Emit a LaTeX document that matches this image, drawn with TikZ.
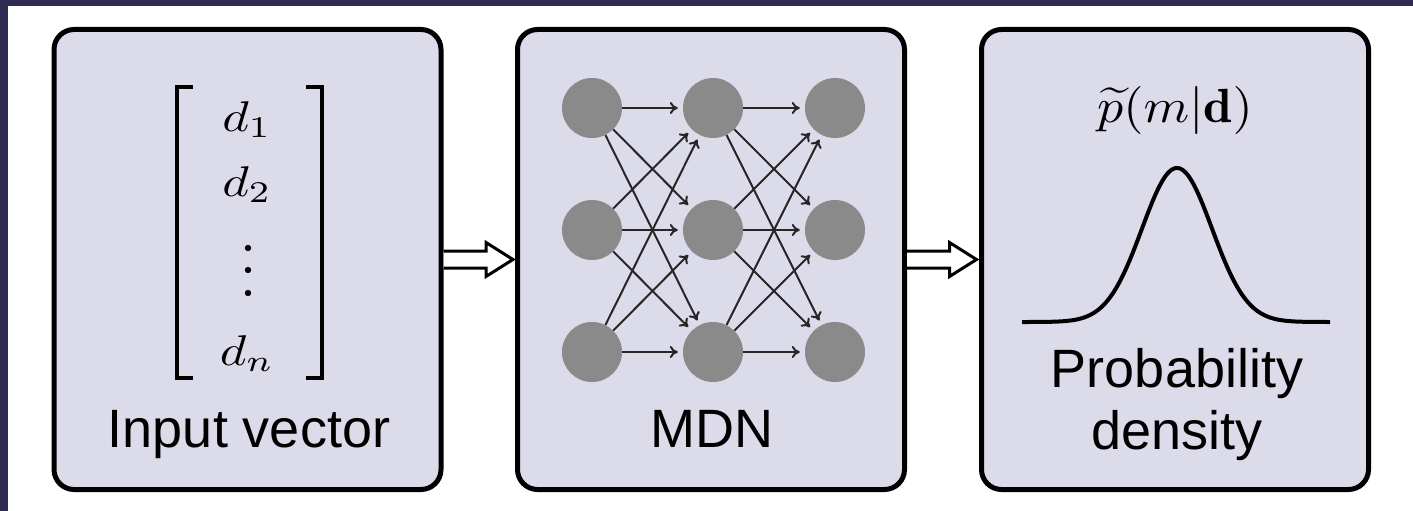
\documentclass[tikz,border=0pt]{standalone}
\usepackage{amsmath}
\usepackage{graphicx}
\usepackage{fontspec}
\newfontfamily\lab{Liberation Sans}
\usetikzlibrary{arrows.meta,calc}
\definecolor{boxfill}{RGB}{220,219,233}
\definecolor{navy}{RGB}{46,44,82}
\definecolor{nodegray}{RGB}{138,138,138}
\newcommand{\vecmath}[1]{\scalebox{5.1}[4.3]{$#1$}}
\newcommand{\denmath}[1]{\scalebox{5.2}[4.8]{$#1$}}
\begin{document}
\begin{tikzpicture}[x=1pt,y=-1pt,
 panel/.style={draw=black, line width=5pt, fill=boxfill, rounded corners=20pt, minimum width=387pt, minimum height=460pt, inner sep=0pt},
 neuron/.style={circle, fill=nodegray, minimum size=60pt, inner sep=0pt},
 link/.style={line width=2pt, draw=black!85, -{To[length=8pt,width=12pt]}, shorten >=5pt},
 hollow/.style={draw=black, line width=3pt, fill=white, line join=miter},
 label/.style={font=\lab\fontsize{54}{64}\selectfont, anchor=base},
 mathlbl/.style={anchor=base, inner sep=0pt}]
\useasboundingbox (0,0) rectangle (1413,511);
\fill[white] (0,0) rectangle (1413,511);
\fill[navy] (0,0) rectangle (1413,6);
\fill[navy] (0,0) rectangle (8,511);
% panels
\node[panel] (b1) at (247.5,259.5) {};
\node[panel] (b2) at (711,259.5) {};
\node[panel] (b3) at (1175,259.5) {};
% hollow arrows
\draw[hollow] ($(b1.east)+(0,-8.5)$) -- ++(42.5,0) -- ++(0,-8.5) -- ++(27,17) -- ++(-27,17) -- ++(0,-8.5) -- ++(-42.5,0);
\draw[hollow] ($(b2.east)+(0,-8.5)$) -- ++(42.5,0) -- ++(0,-8.5) -- ++(27,17) -- ++(-27,17) -- ++(0,-8.5) -- ++(-42.5,0);
% input vector
\draw[line width=4pt] (193,87) -- (177,87) -- (177,378) -- (193,378);
\draw[line width=4pt] (306,87) -- (322,87) -- (322,378) -- (306,378);
\node[mathlbl] (d1) at (247,131) {\vecmath{d_1}};
\node[mathlbl] (d2) at (247,196) {\vecmath{d_2}};
\node[mathlbl] (dn) at (247,365) {\vecmath{d_n}};
\fill (248,248) circle (3.2);
\fill (248,270) circle (3.2);
\fill (248,293) circle (3.2);
\node[label] (t1) at (249,447) {Input vector};
% network
\foreach \c/\x in {1/592,2/713,3/835}
  \foreach \r/\y in {1/108,2/230,3/352}
    \node[neuron] (n\c\r) at (\x,\y) {};
\foreach \r in {1,2,3}
  \foreach \s in {1,2,3} {
    \draw[link] (n1\r) -- (n2\s);
    \draw[link] (n2\r) -- (n3\s);
  }
\node[label] (t2) at (712,447) {MDN};
% density
\node[mathlbl] (pl) at (1175,122) {\denmath{\widetilde{p}(m|\mathbf{d})}};
\draw[line width=4pt, domain=1022:1330, samples=200, smooth] plot (\x, {322-154*exp(-0.5*((\x-1177)/35)^2)});
\node[label] (t3) at (1177,387) {Probability};
\node[label] (t4) at (1177,449) {density};
\end{tikzpicture}
\end{document}
